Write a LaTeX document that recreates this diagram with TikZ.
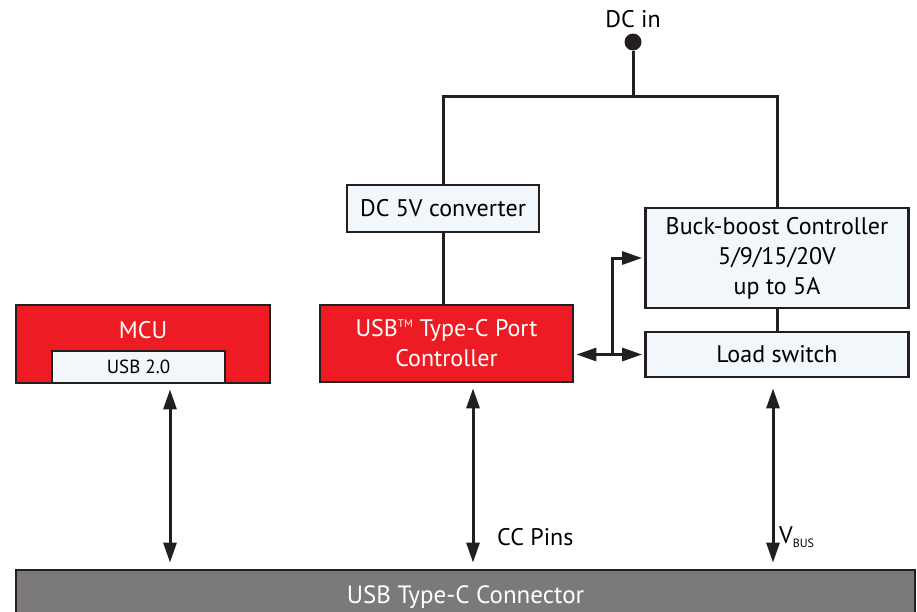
\documentclass[tikz,border=0pt]{standalone}
\usepackage{fontspec}
\setmainfont{PT Sans}
\usetikzlibrary{arrows.meta}

\definecolor{boxred}{HTML}{ED1C24}
\definecolor{boxblue}{HTML}{F1F7FB}
\definecolor{conngray}{HTML}{7B797C}
\definecolor{edge}{HTML}{231F20}

\tikzset{
  blk/.style={draw=edge, line width=2.8pt, fill=boxblue, inner sep=0pt, align=center,
    font=\fontsize{24}{30}\selectfont},
  redblk/.style={blk, fill=boxred, text=white},
  wire/.style={draw=edge, line width=3pt},
  tip/.tip={Triangle[length=20pt,width=13pt]},
  dblarrow/.style={wire, tip-tip},
  onearrow/.style={wire, -tip},
  lbl/.style={font=\fontsize{24}{28}\selectfont, inner sep=0pt},
  pin/.style={circle, fill=edge, inner sep=0pt, minimum size=17pt},
}

\begin{document}
\begin{tikzpicture}[x=1pt, y=-1pt]
        \useasboundingbox (0,0) rectangle (917,611);

        \node[pin] (dcin) at (633,42) {};
        \node[lbl] (dcintxt) at (633,19) {DC in};
        \coordinate (jn) at (633,96);

        \node[blk, minimum width=192pt, minimum height=47pt] (conv) at (443,208.5) {DC 5V converter};
        \node[redblk, minimum width=253pt, minimum height=77pt] (ctrl) at (446.5,343.5)
            {USB\textsuperscript{\fontsize{11}{11}\selectfont TM} Type-C Port\\Controller};
        \node[blk, minimum width=263pt, minimum height=100pt] (buck) at (777,258)
            {Buck-boost Controller\\5/9/15/20V\\up to 5A};
        \node[blk, minimum width=263pt, minimum height=45pt] (load) at (777,354.5) {Load switch};

        \node[redblk, minimum width=254pt, minimum height=78pt] (mcu) at (143,344) {};
        \node[lbl, text=white] (mcutxt) at (143,330) {MCU};
        \node[blk, minimum width=173pt, minimum height=32pt, font=\fontsize{19}{22}\selectfont]
            (usb) at (138.5,367) {USB 2.0};

        \node[blk, fill=conngray, text=white, minimum width=899pt, minimum height=54pt,
            font=\fontsize{25}{30}\selectfont] (conn) at (465.5,597) {USB Type-C Connector};

        % power path
        \draw[wire] (dcin) -- (jn);
        \draw[wire] (conv.north) |- (jn) -| (buck.north);
        \draw[wire] (conv.south) -- (conv.south |- ctrl.north);
        \draw[wire] (buck) -- (load);

        % control from the port controller
        \coordinate (br) at (612,0);
        \draw[dblarrow, shorten <=2pt, shorten >=2pt] (load.west -| ctrl.east) -- (load.west);
        \draw[onearrow, shorten >=2pt] (load.west -| br) |- (buck.west);

        % lines to the connector
        \coordinate (mcuio) at (170,0);
        \coordinate (ccio) at (473,0);
        \coordinate (vbusio) at (773,0);
        \draw[dblarrow, shorten <=5pt, shorten >=6pt] (usb.south -| mcuio) -- (conn.north -| mcuio);
        \draw[dblarrow, shorten <=5pt, shorten >=6pt] (ctrl.south -| ccio) -- (conn.north -| ccio);
        \draw[dblarrow, shorten <=10pt, shorten >=6pt] (load.south -| vbusio) -- (conn.north -| vbusio);

        \node[lbl, anchor=west] (cctxt) at (497,537) {CC Pins};
        \node[lbl, anchor=west] (vbustxt) at (779,537) {V\textsubscript{\fontsize{12}{12}\selectfont BUS}};
\end{tikzpicture}
\end{document}
